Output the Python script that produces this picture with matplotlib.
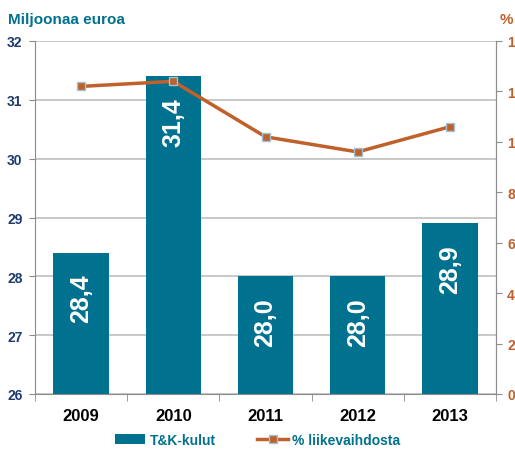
import matplotlib
matplotlib.use("Agg")
import matplotlib.pyplot as plt
from matplotlib.lines import Line2D
from matplotlib.patches import Patch

plt.rcParams['font.family'] = ['Liberation Sans Narrow', 'Liberation Sans', 'DejaVu Sans']

years = ['2009', '2010', '2011', '2012', '2013']
rd_costs = [28.4, 31.4, 28.0, 28.0, 28.9]
pct_revenue = [12.2, 12.4, 10.2, 9.6, 10.6]
bar_labels = ['28,4', '31,4', '28,0', '28,0', '28,9']

teal = '#00718f'
orange = '#c0602a'
navy = '#1f3a6e'
grid = '#bfbfbf'

fig = plt.figure(figsize=(5.15, 4.52), dpi=100)
ax = fig.add_axes([35/515, 57/452, 461/515, 353/452])
x = list(range(len(years)))
ax.bar(x, [v - 26 for v in rd_costs], bottom=26, width=0.6, color=teal, zorder=3)
ax.set_ylim(26, 32)
ax.set_xlim(-0.5, 4.5)
ax.set_yticks(range(26, 33))
ax.yaxis.grid(True, color=grid, linewidth=1.2, zorder=0)
ax.set_axisbelow(True)
ax.spines['top'].set_visible(False)
for s in ['left', 'bottom', 'right']:
    ax.spines[s].set_color('#8c8c8c')
ax.tick_params(axis='y', colors='#8c8c8c', length=4, labelcolor=navy, labelsize=10, pad=5)
for t in ax.get_yticklabels():
    t.set_fontweight('bold')
ax.set_xticks(x)
ax.set_xticklabels(years, fontsize=12, fontweight='bold', color='black')
ax.tick_params(axis='x', length=0, pad=10)
ax.set_xticks([i + 0.5 for i in range(-1, 5)], minor=True)
ax.tick_params(axis='x', which='minor', length=5, colors='#8c8c8c')

for xi, v, lab in zip(x, rd_costs, bar_labels):
    ax.annotate(lab, (xi, v), xytext=(0, -15), textcoords='offset points',
                rotation=90, ha='center', va='top', color='white',
                fontsize=18, fontweight='bold', zorder=5)

ax2 = ax.twinx()
ax2.set_ylim(0, 14)
ax2.set_yticks(range(0, 15, 2))
ax2.plot(x, pct_revenue, color=orange, linewidth=2.5, marker='s', markersize=6,
         markerfacecolor=orange, markeredgecolor='#9ec3d6', markeredgewidth=1, zorder=5)
for s in ['top', 'left', 'bottom']:
    ax2.spines[s].set_visible(False)
ax2.spines['right'].set_color('#8c8c8c')
ax2.tick_params(axis='y', colors='#8c8c8c', length=4, labelcolor=orange, labelsize=10, pad=4)
for t in ax2.get_yticklabels():
    t.set_fontweight('bold')

fig.text(8/515, 1 - 20/452, 'Miljoonaa euroa', color=teal, fontsize=11, fontweight='bold', va='center')
fig.text(500/515, 1 - 20/452, '%', color=orange, fontsize=11, fontweight='bold', va='center')

handles = [Patch(facecolor=teal, edgecolor='none'),
           Line2D([0], [0], color=orange, linewidth=2.5, marker='s', markersize=6,
                  markerfacecolor=orange, markeredgecolor='#9ec3d6')]
leg = fig.legend(handles, ['T&K-kulut', '% liikevaihdosta'], loc='center',
                 bbox_to_anchor=(0.5, 1 - 441/452), ncol=2, frameon=False,
                 fontsize=10, handlelength=2.2, columnspacing=3, handletextpad=0.3)
for t in leg.get_texts():
    t.set_color(teal)
    t.set_fontweight('bold')

fig.savefig('out.png', dpi=100)
